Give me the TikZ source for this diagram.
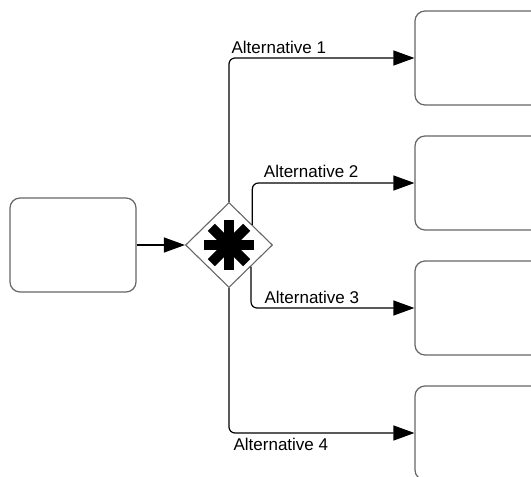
\documentclass[tikz,border=0pt]{standalone}
\usepackage{fontspec}
\setmainfont{Liberation Sans}
\usetikzlibrary{arrows.meta,shapes.geometric,calc}

\tikzset{
  task/.style={draw=black!60, line width=1.2pt, rounded corners=10pt, minimum width=126pt, minimum height=94pt},
  gateway/.style={diamond, draw=black!60, line width=1.1pt, fill=white, inner sep=0pt, minimum width=87pt, minimum height=85pt},
  flow/.style={draw=black, line width=1.2pt, rounded corners=6pt, -{Triangle[length=21pt,width=15pt]}},
  lbl/.style={font=\fontsize{17}{19}\selectfont, inner sep=0pt, anchor=base west}
}

\begin{document}
\begin{tikzpicture}[x=1pt, y=-1pt]
  \useasboundingbox (0,0) rectangle (531,477);
  \clip (0,0) rectangle (531,477);
  \node[task] (start) at (73,245) {};
  \node[gateway] (gw) at (229,245) {};
  \foreach \a in {0,45,90,135}
    \draw[line width=10pt, shift={(gw.center)}] (\a:25) -- (\a+180:25);
  \foreach \i/\y in {1/58,2/183,3/308,4/433}
    \node[task, minimum width=150pt] (alt\i) at (490,\y) {};
  \coordinate (gwne) at ($(gw.north)!0.53!(gw.east)$);
  \coordinate (gwse) at ($(gw.east)!0.5!(gw.south)$);
  \draw[flow] (start) -- (gw);
  \draw[flow] (gw.north) |- node[lbl, pos=0.5, xshift=2pt, yshift=5pt] {Alternative 1} (alt1.west);
  \draw[flow] (gwne) |- node[lbl, pos=0.5, xshift=11pt, yshift=6pt] {Alternative 2} (alt2.west);
  \draw[flow] (gwse) |- node[lbl, pos=0.5, xshift=13pt, yshift=5pt] {Alternative 3} (alt3.west);
  \draw[flow] (gw.south) |- node[lbl, pos=0.5, xshift=4pt, yshift=-17pt] {Alternative 4} (alt4.west);
\end{tikzpicture}
\end{document}
